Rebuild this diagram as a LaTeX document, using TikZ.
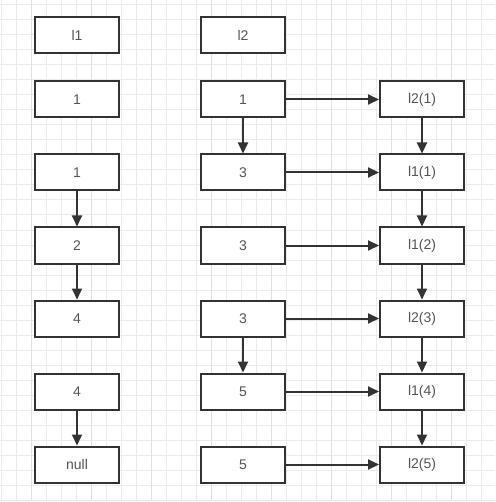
\documentclass[tikz,border=0pt]{standalone}
\usepackage{fontspec}
\setmainfont{Liberation Sans}
\usetikzlibrary{arrows.meta}
\definecolor{ink}{HTML}{333333}
\definecolor{txt}{HTML}{555555}
\definecolor{gridminor}{HTML}{EBEBEB}
\definecolor{gridmajor}{HTML}{E0E0E0}
\begin{document}
\begin{tikzpicture}[x=1pt,y=-1pt,
  cell/.style={draw=ink,line width=2pt,fill=white,minimum width=84pt,minimum height=36pt,
    inner sep=0pt,font=\fontsize{14}{16}\selectfont,text=txt},
  link/.style={draw=ink,line width=2pt,-{Triangle[length=11pt,width=10pt]}}]
\useasboundingbox (0,0) rectangle (495,502);
% background grid
\fill[white] (0,0) rectangle (495,502);
\foreach \i in {0,...,32} {\draw[gridminor,line width=1pt] (1.7+15*\i,0) -- (1.7+15*\i,500);}
\foreach \i in {0,...,33} {\draw[gridminor,line width=1pt] (0,5+15*\i) -- (495,5+15*\i);}
\foreach \i in {0,...,7} {\draw[gridmajor,line width=1pt] (31.7+60*\i,0) -- (31.7+60*\i,500);}
% left column
\node[cell] (a1) at (77,35) {l1};
\node[cell] (a2) at (77,99.5) {1};
\node[cell] (a3) at (77,172.5) {1};
\node[cell] (a4) at (77,245.5) {2};
\node[cell] (a5) at (77,318.5) {4};
\node[cell] (a6) at (77,391.5) {4};
\node[cell] (a7) at (77,464.5) {null};
% middle column
\node[cell] (b1) at (243,35) {l2};
\node[cell] (b2) at (243,99.5) {1};
\node[cell] (b3) at (243,172.5) {3};
\node[cell] (b4) at (243,245.5) {3};
\node[cell] (b5) at (243,318.5) {3};
\node[cell] (b6) at (243,391.5) {5};
\node[cell] (b7) at (243,464.5) {5};
% right column
\node[cell] (c2) at (422,99.5) {l2(1)};
\node[cell] (c3) at (422,172.5) {l1(1)};
\node[cell] (c4) at (422,245.5) {l1(2)};
\node[cell] (c5) at (422,318.5) {l2(3)};
\node[cell] (c6) at (422,391.5) {l1(4)};
\node[cell] (c7) at (422,464.5) {l2(5)};
% vertical links
\draw[link] (a3) -- (a4);
\draw[link] (a4) -- (a5);
\draw[link] (a6) -- (a7);
\draw[link] (b2) -- (b3);
\draw[link] (b5) -- (b6);
\draw[link] (c2) -- (c3);
\draw[link] (c3) -- (c4);
\draw[link] (c4) -- (c5);
\draw[link] (c5) -- (c6);
\draw[link] (c6) -- (c7);
% horizontal links
\draw[link] (b2) -- (c2);
\draw[link] (b3) -- (c3);
\draw[link] (b4) -- (c4);
\draw[link] (b5) -- (c5);
\draw[link] (b6) -- (c6);
\draw[link] (b7) -- (c7);
\end{tikzpicture}
\end{document}
